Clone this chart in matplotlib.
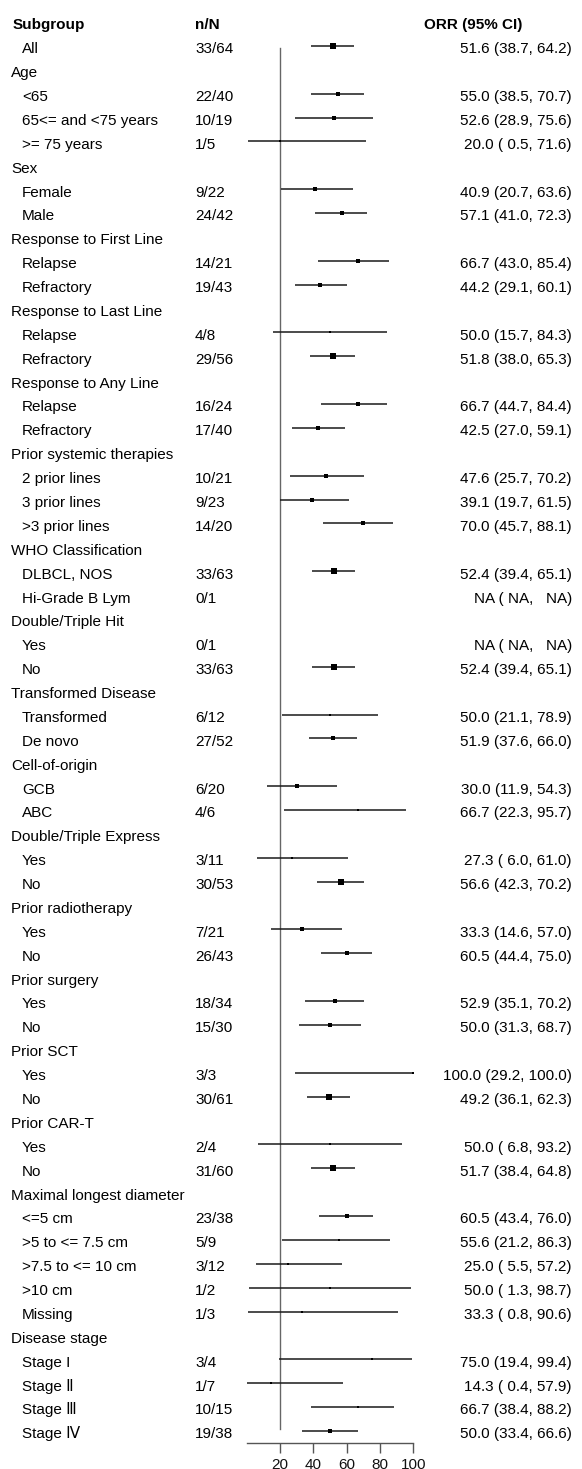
import numpy as np
import matplotlib
matplotlib.use("Agg")
import matplotlib.pyplot as plt
import matplotlib.transforms as mtransforms

plt.rcParams['font.family'] = ['Liberation Sans', 'DejaVu Sans']

# ---------------- data ----------------
subgroups = ["All", "Age", "<65", "65<= and <75 years", ">= 75 years",
             "Sex", "Female", "Male",
             "Response to First Line", "Relapse", "Refractory",
             "Response to Last Line", "Relapse", "Refractory",
             "Response to Any Line", "Relapse", "Refractory",
             "Prior systemic therapies", "2 prior lines", "3 prior lines", ">3 prior lines",
             "WHO Classification", "DLBCL, NOS", "Hi-Grade B Lym",
             "Double/Triple Hit", "Yes", "No",
             "Transformed Disease", "Transformed", "De novo",
             "Cell-of-origin", "GCB", "ABC",
             "Double/Triple Express", "Yes", "No",
             "Prior radiotherapy", "Yes", "No",
             "Prior surgery", "Yes", "No",
             "Prior SCT", "Yes", "No",
             "Prior CAR-T", "Yes", "No",
             "Maximal longest diameter", "<=5 cm", ">5 to <= 7.5 cm", ">7.5 to <= 10 cm", ">10 cm", "Missing",
             "Disease stage", "Stage I", "Stage \u2161", "Stage \u2162", "Stage \u2163"]

is_category = [False, True, False, False, False,
               True, False, False,
               True, False, False,
               True, False, False,
               True, False, False,
               True, False, False, False,
               True, False, False,
               True, False, False,
               True, False, False,
               True, False, False,
               True, False, False,
               True, False, False,
               True, False, False,
               True, False, False,
               True, False, False,
               True, False, False, False, False, False,
               True, False, False, False, False]

n_over_N = ["33/64", "", "22/40", "10/19", "1/5",
            "", "9/22", "24/42",
            "", "14/21", "19/43",
            "", "4/8", "29/56",
            "", "16/24", "17/40",
            "", "10/21", "9/23", "14/20",
            "", "33/63", "0/1",
            "", "0/1", "33/63",
            "", "6/12", "27/52",
            "", "6/20", "4/6",
            "", "3/11", "30/53",
            "", "7/21", "26/43",
            "", "18/34", "15/30",
            "", "3/3", "30/61",
            "", "2/4", "31/60",
            "", "23/38", "5/9", "3/12", "1/2", "1/3",
            "", "3/4", "1/7", "10/15", "19/38"]

nan = np.nan
orr = [51.6, nan, 55.0, 52.6, 20.0,
       nan, 40.9, 57.1,
       nan, 66.7, 44.2,
       nan, 50.0, 51.8,
       nan, 66.7, 42.5,
       nan, 47.6, 39.1, 70.0,
       nan, 52.4, nan,
       nan, nan, 52.4,
       nan, 50.0, 51.9,
       nan, 30.0, 66.7,
       nan, 27.3, 56.6,
       nan, 33.3, 60.5,
       nan, 52.9, 50.0,
       nan, 100.0, 49.2,
       nan, 50.0, 51.7,
       nan, 60.5, 55.6, 25.0, 50.0, 33.3,
       nan, 75.0, 14.3, 66.7, 50.0]

ci_low = [38.7, nan, 38.5, 28.9, 0.5,
          nan, 20.7, 41.0,
          nan, 43.0, 29.1,
          nan, 15.7, 38.0,
          nan, 44.7, 27.0,
          nan, 25.7, 19.7, 45.7,
          nan, 39.4, nan,
          nan, nan, 39.4,
          nan, 21.1, 37.6,
          nan, 11.9, 22.3,
          nan, 6.0, 42.3,
          nan, 14.6, 44.4,
          nan, 35.1, 31.3,
          nan, 29.2, 36.1,
          nan, 6.8, 38.4,
          nan, 43.4, 21.2, 5.5, 1.3, 0.8,
          nan, 19.4, 0.4, 38.4, 33.4]

ci_high = [64.2, nan, 70.7, 75.6, 71.6,
           nan, 63.6, 72.3,
           nan, 85.4, 60.1,
           nan, 84.3, 65.3,
           nan, 84.4, 59.1,
           nan, 70.2, 61.5, 88.1,
           nan, 65.1, nan,
           nan, nan, 65.1,
           nan, 78.9, 66.0,
           nan, 54.3, 95.7,
           nan, 61.0, 70.2,
           nan, 57.0, 75.0,
           nan, 70.2, 68.7,
           nan, 100.0, 62.3,
           nan, 93.2, 64.8,
           nan, 76.0, 86.3, 57.2, 98.7, 90.6,
           nan, 99.4, 57.9, 88.2, 66.6]

x_ticks = [20, 40, 60, 80, 100]
ref_value = 20

# ---------------- figure ----------------
W, H = 582, 1469
fig = plt.figure(figsize=(W / 100, H / 100), dpi=100)

row_h = 23.88        # px per row
top_px = 22.0        # header row centre (px from top)
axis_px = 1443.0     # x axis line (px from top)
x0_px, x100_px = 246.7, 413.3

ax = fig.add_axes([x0_px / W, (H - axis_px) / H, (x100_px - x0_px) / W, axis_px / H])
ax.set_xlim(0, 100)
ax.set_ylim((axis_px - top_px) / row_h, -top_px / row_h)
ax.patch.set_visible(False)

for s in ["top", "right", "left"]:
    ax.spines[s].set_visible(False)
ax.spines["bottom"].set_bounds(0, 100)
ax.spines["bottom"].set_color("#555555")
ax.spines["bottom"].set_linewidth(1.0)
ax.set_yticks([])
ax.set_xticks(x_ticks)
ax.set_xticklabels([str(t) for t in x_ticks])
ax.tick_params(axis="x", direction="out", length=7, width=1.0, color="#555555",
               labelsize=11, pad=3.5, labelcolor="#111111")

n_rows = len(subgroups)
rows = np.arange(1, n_rows + 1)

# reference line
ax.plot([ref_value, ref_value], [1.07, n_rows - 0.08], color="#666666", lw=1.0, zorder=1)

orr_a = np.array(orr, dtype=float)
lo_a = np.array(ci_low, dtype=float)
hi_a = np.array(ci_high, dtype=float)
width = hi_a - lo_a
min_w = np.nanmin(width)

for y, e, lo, hi, w in zip(rows, orr_a, lo_a, hi_a, width):
    if np.isnan(e):
        continue
    ax.plot([lo, hi], [y, y], color="#1a1a1a", lw=1.1, solid_capstyle="butt",
            zorder=2, clip_on=False)
    side_px = 5.5 * min_w / w
    side_pt = side_px * 0.72
    ax.scatter([e], [y], marker="s", s=side_pt ** 2, color="black",
               linewidths=0, zorder=3, clip_on=False)

# ---------------- text columns ----------------
trans = mtransforms.blended_transform_factory(fig.transFigure, ax.transData)
fs = 11
base_off = 0.31

ax.text(13 / W, 0 + base_off, "Subgroup", transform=trans, fontsize=fs,
        fontweight="bold", va="baseline", ha="left")
ax.text(195 / W, 0 + base_off, "n/N", transform=trans, fontsize=fs,
        fontweight="bold", va="baseline", ha="left")
ax.text(424 / W, 0 + base_off, "ORR (95% CI)", transform=trans, fontsize=fs,
        fontweight="bold", va="baseline", ha="left")


def fmt(v, width_chars):
    if np.isnan(v):
        return "NA".rjust(width_chars)
    return f"{v:.1f}".rjust(width_chars)


for y, lab, cat, nn, e, lo, hi in zip(rows, subgroups, is_category, n_over_N,
                                      orr_a, lo_a, hi_a):
    xl = 11 if cat else 22
    ax.text(xl / W, y + base_off, lab, transform=trans, fontsize=fs,
            va="baseline", ha="left")
    if cat:
        continue
    ax.text(195 / W, y + base_off, nn, transform=trans, fontsize=fs,
            va="baseline", ha="left")
    if np.isnan(e):
        s = "NA ( NA,   NA)"
    else:
        s = f"{e:.1f} ({fmt(lo, 4)}, {fmt(hi, 4)})"
    ax.text(572 / W, y + base_off, s, transform=trans, fontsize=fs,
            va="baseline", ha="right")

fig.savefig("out.png", dpi=100)
